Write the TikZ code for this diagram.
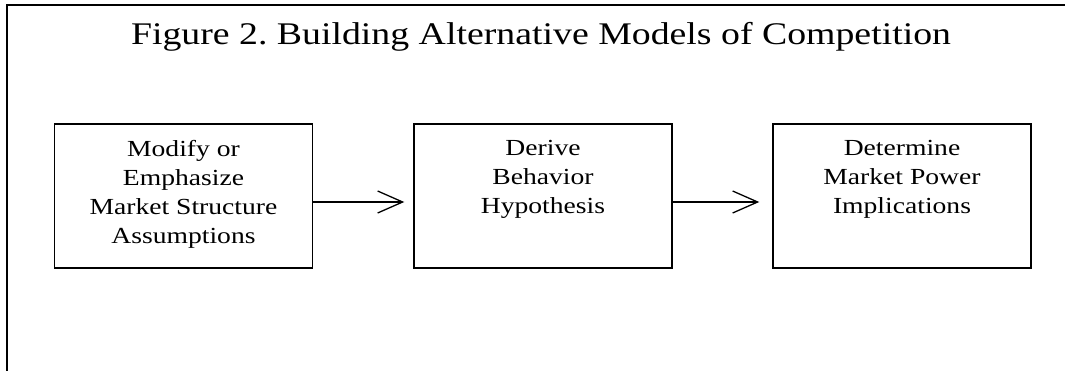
\documentclass[tikz,border=0pt]{standalone}
\usepackage{fontspec}
\setmainfont{Liberation Serif}[FakeStretch=1.2]
\usetikzlibrary{arrows.meta}
\tikzset{
  stagebox/.style={draw, line width=1.5pt, inner sep=0pt,
    minimum width=258pt, minimum height=144pt},
  stagetext/.style={anchor=north, inner sep=0pt, align=center,
    font=\fontsize{23}{29}\selectfont},
  flow/.style={line width=1.3pt, -{Straight Barb[length=25pt, width=22pt, line width=1.3pt]}},
}
\frenchspacing
\begin{document}
\begin{tikzpicture}[x=1pt, y=-1pt]
  \useasboundingbox (0, 0) rectangle (1065, 371);
  % frame
  \draw[line width=1.6pt] (7, 371) -- (7, 5) -- (1065, 5);
  \node[anchor=base, inner sep=0pt, font=\fontsize{31.5}{38}\selectfont] (title) at (541, 45)
    {Figure 2. Building Alternative Models of Competition};
  % stages
  \node[stagebox] (mod) at (183.5, 196) {};
  \node[stagebox] (drv) at (543, 196) {};
  \node[stagebox] (det) at (902, 196) {};
  \node[stagetext] (modtext) at ([yshift=-17pt]mod.north)
    {Modify or\\Emphasize\\Market Structure\\Assumptions};
  \node[stagetext] (drvtext) at ([yshift=-17pt]drv.north)
    {Derive\\Behavior\\Hypothesis};
  \node[stagetext] (dettext) at ([yshift=-17pt]det.north)
    {Determine\\Market Power\\Implications};
  % arrows
  \draw[flow] ([yshift=-6pt]mod.east) -- ([xshift=-9pt, yshift=-6pt]drv.west);
  \draw[flow] ([yshift=-6pt]drv.east) -- ([xshift=-13pt, yshift=-6pt]det.west);
\end{tikzpicture}
\end{document}
